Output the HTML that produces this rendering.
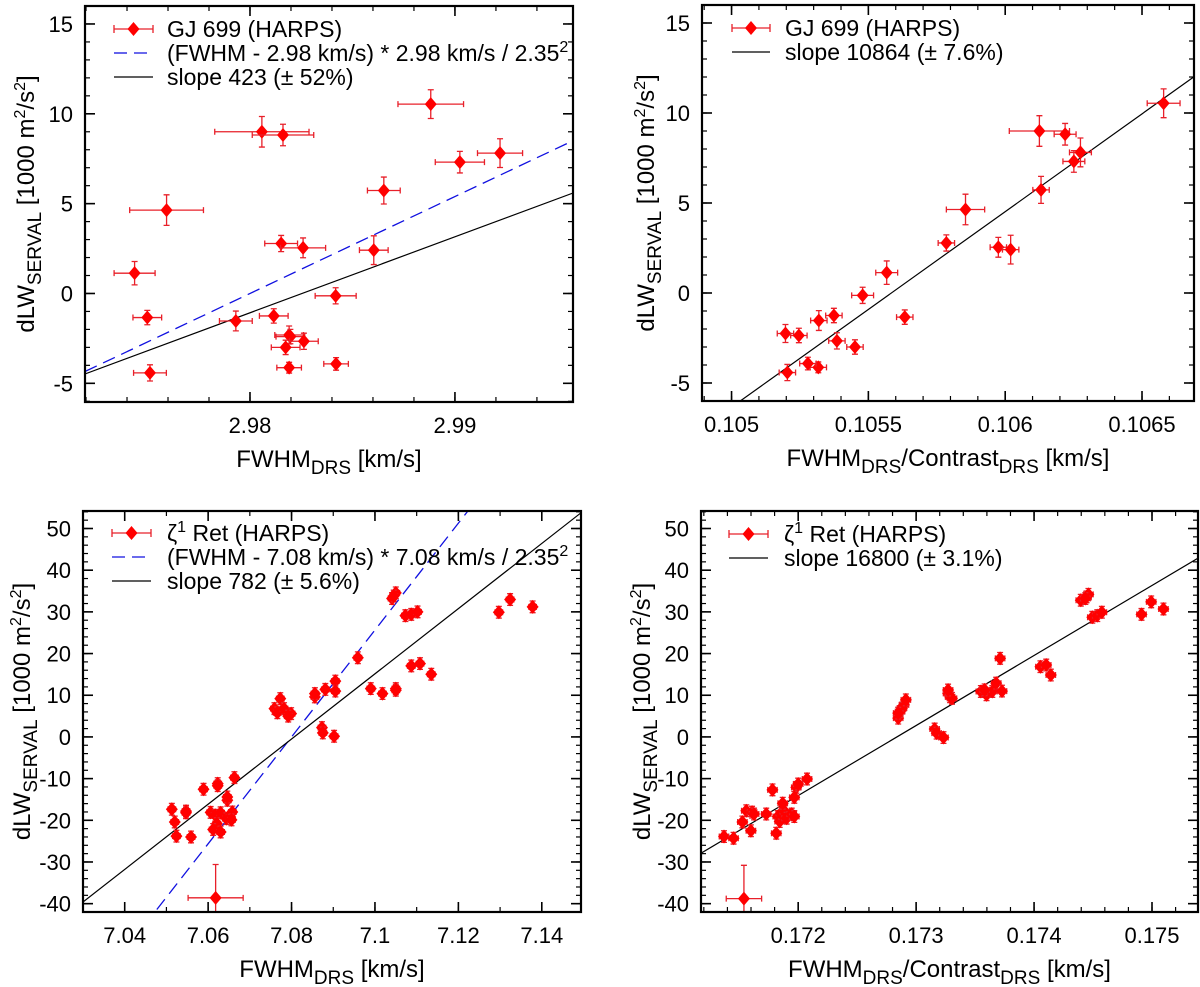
<!DOCTYPE html>
<html><head><meta charset="utf-8"><style>
html,body{margin:0;padding:0;background:#fff;}
svg{display:block;font-family:"Liberation Sans",sans-serif;}
</style></head><body>
<svg id="fig" width="1200" height="987" viewBox="0 0 1200 987" xmlns="http://www.w3.org/2000/svg"></svg>
<script>
// ---- Panel A (top-left): GJ 699 vs FWHM ----
const aX = [2.98882,2.98058,2.98161,2.99024,2.99220,2.98653,2.97593,2.98152,2.98259,2.98604,2.97437,2.98418,2.97499,2.97931,2.98116,2.98191,2.98197,2.98263,2.98174,2.98191,2.98420,2.97512];
const aY = [10.54,9.0,8.82,7.31,7.81,5.73,4.64,2.78,2.54,2.41,1.13,-0.13,-1.34,-1.53,-1.25,-2.31,-2.40,-2.66,-3.0,-4.13,-3.92,-4.42];
const aXerr = [0.0016,0.0023,0.0015,0.0012,0.0011,0.0008,0.0018,0.0008,0.0011,0.0007,0.001,0.001,0.0007,0.0008,0.0007,0.0007,0.0007,0.0007,0.0007,0.0006,0.0006,0.0008];
const aYerr = [0.8,0.85,0.6,0.6,0.8,0.75,0.85,0.45,0.55,0.8,0.65,0.45,0.4,0.55,0.4,0.5,0.4,0.45,0.4,0.3,0.35,0.45];
const aXticks = [2.98,2.99];
const aYticks = [-5,0,5,10,15];
const aFit = [423,2.98254];
const aTheory = [539.6,2.98];
// ---- Panel B (top-right): GJ 699 vs FWHM/Contrast ----
const bX = [0.106579,0.106125,0.106219,0.106251,0.106275,0.106131,0.105855,0.105785,0.105975,0.106020,0.105567,0.105479,0.105633,0.105319,0.105374,0.105197,0.105246,0.105385,0.105451,0.105317,0.105279,0.105204];
const bY = [10.54,9.0,8.82,7.31,7.81,5.73,4.64,2.78,2.54,2.41,1.13,-0.13,-1.34,-1.53,-1.25,-2.25,-2.36,-2.66,-3.0,-4.13,-3.92,-4.42];
const bXerr = [0.00006,0.00011,0.00004,0.00004,0.00004,0.00003,0.00007,0.00003,0.00003,0.00003,0.00004,0.00004,0.00003,0.00003,0.00003,0.00003,0.00003,0.00003,0.00003,0.00003,0.00003,0.00003];
const bYerr = aYerr;
const bXticks = [0.105,0.1055,0.106,0.1065];
const bYticks = [-5,0,5,10,15];
const bFit = [10864,0.105584];
// ---- Panel C (bottom-left): zeta1 Ret vs FWHM ----
const cX = [7.1324,7.1297,7.1378,7.1041,7.1050,7.1045,7.1073,7.1087,7.1102,7.0959,7.1087,7.1108,7.1135,7.0990,7.1018,7.1050,7.1050,7.0905,7.0905,7.0881,7.0856,7.0856,7.0873,7.0875,7.0902,7.0759,7.0766,7.0773,7.0782,7.0799,7.0792,7.0663,7.0589,7.0623,7.0623,7.0646,7.0646,7.0513,7.0547,7.0547,7.0520,7.0524,7.0559,7.0606,7.0617,7.0630,7.0644,7.0653,7.0658,7.0621,7.0612,7.0630,7.0656,7.0618];
const cY = [32.96,29.9,31.2,33.2,34.56,33.8,29.1,29.4,30.0,19.0,17.04,17.6,15.04,11.6,10.4,11.6,11.2,13.4,11.0,11.4,9.6,10.4,2.24,0.96,0.16,6.8,5.8,9.2,6.8,5.6,5.0,-9.76,-12.56,-11.2,-11.7,-15.2,-14.4,-17.36,-17.8,-18.2,-20.4,-23.8,-24.0,-18.1,-18.8,-18.2,-19.6,-19.2,-18.0,-20.8,-22.2,-22.8,-19.9,-38.6];
const cXerr = cX.map((v,i)=> i===cX.length-1 ? 0.0066 : 0.0009);
const cYerr = cX.map((v,i)=> i===cX.length-1 ? 8 : 1.4);
const cXticks = [7.04,7.06,7.08,7.10,7.12,7.14];
const cYticks = [-40,-30,-20,-10,0,10,20,30,40,50];
const cFit = [782,7.08064];
const cTheory = [1282,7.08];
// ---- Panel D (bottom-right): zeta1 Ret vs FWHM/Contrast ----
const dX = [0.174396,0.174445,0.174461,0.174435,0.174494,0.174536,0.174575,0.174911,0.174993,0.175097,0.173712,0.174054,0.174103,0.174142,0.173271,0.173288,0.173304,0.173271,0.173549,0.173597,0.173646,0.173679,0.173728,0.173581,0.173157,0.173174,0.173232,0.172848,0.172864,0.172897,0.172880,0.172848,0.172913,0.172075,0.171984,0.172,0.171967,0.171782,0.171560,0.171609,0.171626,0.171729,0.171527,0.171599,0.171371,0.171452,0.171814,0.171827,0.171843,0.171853,0.171886,0.171902,0.171945,0.171967,0.171869,0.171540];
const dY = [32.8,33.6,34.2,33.2,28.7,29.1,29.9,29.4,32.4,30.7,18.85,16.85,17.25,14.85,10.45,9.65,9.25,11.25,10.9,10.1,10.9,12.9,11.0,11.3,1.9,0.9,-0.15,4.5,6.1,7.7,6.9,5.7,8.9,-10.1,-12.1,-11.3,-14.5,-12.7,-17.7,-18.05,-18.5,-18.5,-20.4,-22.5,-23.9,-24.3,-23.1,-19.1,-20.3,-18.3,-17.9,-19.5,-18.5,-19.1,-15.9,-38.8];
const dXerr = dX.map((v,i)=> i===dX.length-1 ? 0.00015 : 0.00004);
const dYerr = dX.map((v,i)=> i===dX.length-1 ? 8 : 1.4);
const dXticks = [0.172,0.173,0.174,0.175];
const dYticks = [-40,-30,-20,-10,0,10,20,30,40,50];
const dFit = [16800,0.172837];

const NS = "http://www.w3.org/2000/svg";
const svg = document.getElementById('fig');
function el(tag, attrs, parent){
  const e = document.createElementNS(NS, tag);
  for (const k in attrs) e.setAttribute(k, attrs[k]);
  (parent||svg).appendChild(e);
  return e;
}
function fmt(v){ return String(parseFloat(v.toPrecision(6))); }

function panel(o){
  const g = el('g', {});
  
  
  const L=o.box[0], T=o.box[1], R=o.box[2], B=o.box[3];
  const sx = v => L + (v - o.xr[0]) / (o.xr[1]-o.xr[0]) * (R-L);
  const sy = v => B - (v - o.yr[0]) / (o.yr[1]-o.yr[0]) * (B-T);
  const clipId = o.name + '-clip';
  const cp = el('clipPath', {id: clipId}, g);
  el('rect', {x:L, y:T, width:R-L, height:B-T}, cp);
  const minor = el('g', {stroke:'#000','stroke-width':1.2}, g);
  
  
  const nx = Math.round((o.xr[1]-o.xr[0])/o.xminor)+2;
  const x0 = Math.ceil(o.xr[0]/o.xminor - 1e-6)*o.xminor;
  for (let i=0;i<nx;i++){ const v=x0+i*o.xminor; if(v>o.xr[1]) break; const px=sx(v);
    el('line',{x1:px,y1:B,x2:px,y2:B-5},minor); el('line',{x1:px,y1:T,x2:px,y2:T+5},minor); }
  const ny = Math.round((o.yr[1]-o.yr[0])/o.yminor)+2;
  const y0 = Math.ceil(o.yr[0]/o.yminor - 1e-6)*o.yminor;
  for (let i=0;i<ny;i++){ const v=y0+i*o.yminor; if(v>o.yr[1]) break; const py=sy(v);
    el('line',{x1:L,y1:py,x2:L+5,y2:py},minor); el('line',{x1:R,y1:py,x2:R-5,y2:py},minor); }
  const major = el('g', {stroke:'#000','stroke-width':1.6}, g);
  o.xt.forEach(v=>{ const px=sx(v);
    el('line',{x1:px,y1:B,x2:px,y2:B-10},major); el('line',{x1:px,y1:T,x2:px,y2:T+10},major);
    const t = el('text',{x:px,y:B+31,'font-size':22,'text-anchor':'middle',fill:'#000'},g);
    
    
    t.textContent = fmt(v); });
  o.yt.forEach(v=>{ const py=sy(v);
    el('line',{x1:L,y1:py,x2:L+10,y2:py},major); el('line',{x1:R,y1:py,x2:R-10,y2:py},major);
    const t = el('text',{x:L-12,y:py+8,'font-size':22,'text-anchor':'end',fill:'#000'},g);
    
    
    t.textContent = fmt(v); });
  const lg = el('g',{'clip-path':'url(#'+clipId+')'},g);
  if (o.theory){
    const f = x => o.theory[0]*(x-o.theory[1]);
    const ln = el('line',{x1:sx(o.xr[0]),y1:sy(f(o.xr[0])),x2:sx(o.xr[1]),y2:sy(f(o.xr[1])),stroke:'#1010e0','stroke-width':1.3,'stroke-dasharray':'13,7'},lg);
    
    
  }
  { const f = x => o.fit[0]*(x-o.fit[1]);
    const ln = el('line',{x1:sx(o.xr[0]),y1:sy(f(o.xr[0])),x2:sx(o.xr[1]),y2:sy(f(o.xr[1])),stroke:'#000','stroke-width':1.2},lg);
    
     }
  const pg = el('g',{'clip-path':'url(#'+clipId+')'},g);
  o.xs.forEach((xv,i)=>{
    const yv=o.ys[i], px=sx(xv), py=sy(yv);
    const xe = o.xe[i], ye = o.ye[i];
    const pt = el('g',{},pg);
    
    
    const x1=sx(xv-xe), x2=sx(xv+xe), y1=sy(yv-ye), y2=sy(yv+ye);
    el('path',{d:`M${x1},${py}H${x2}M${x1},${py-3}V${py+3}M${x2},${py-3}V${py+3}M${px},${y1}V${y2}M${px-3},${y1}H${px+3}M${px-3},${y2}H${px+3}`,stroke:'#e8202a','stroke-width':1.3,fill:'none'},pt);
    el('path',{d:`M${px},${py-7}L${px+6},${py}L${px},${py+7}L${px-6},${py}Z`,fill:'#f00'},pt);
  });
  const fr = el('rect',{x:L,y:T,width:R-L,height:B-T,fill:'none',stroke:'#000','stroke-width':2.2},g);
  
  
  const yl = el('text',{transform:`translate(${o.ylx},${(T+B)/2}) rotate(-90)`,'font-size':24,'text-anchor':'middle',fill:'#000'},g);
  
  
  yl.innerHTML = 'dLW<tspan font-size="19" dy="7">SERVAL</tspan><tspan dy="-7"> [1000 m</tspan><tspan font-size="16" dy="-9">2</tspan><tspan dy="9">/s</tspan><tspan font-size="16" dy="-9">2</tspan><tspan dy="9">]</tspan>';
  const xl = el('text',{x:(L+R)/2,y:B+65,'font-size':24,'text-anchor':'middle',fill:'#000'},g);
  
  
  xl.innerHTML = o.contrast
    ? 'FWHM<tspan font-size="19" dy="7">DRS</tspan><tspan dy="-7">/Contrast</tspan><tspan font-size="19" dy="7">DRS</tspan><tspan dy="-7"> [km/s]</tspan>'
    : 'FWHM<tspan font-size="19" dy="7">DRS</tspan><tspan dy="-7"> [km/s]</tspan>';
  const lgd = el('g',{},g);
  
  
  const lx0=o.leg[0], lx1=o.leg[1], tx=o.leg[2];
  o.legRows.forEach((r,i)=>{
    const ry = o.leg[3] + i*24;
    const it = el('g',{},lgd);
    
    
    const mx=(lx0+lx1)/2;
    if (r.type==='pt'){
      el('path',{d:`M${lx0},${ry}H${lx1}M${lx0},${ry-4}V${ry+4}M${lx1},${ry-4}V${ry+4}`,stroke:'#e8202a','stroke-width':1.3},it);
      el('path',{d:`M${mx},${ry-7}L${mx+6},${ry}L${mx},${ry+7}L${mx-6},${ry}Z`,fill:'#f00'},it);
    } else if (r.type==='dash'){
      el('line',{x1:lx0,y1:ry,x2:lx1,y2:ry,stroke:'#1010e0','stroke-width':1.3,'stroke-dasharray':'13,7'},it);
    } else {
      el('line',{x1:lx0,y1:ry,x2:lx1,y2:ry,stroke:'#000','stroke-width':1.2},it);
    }
    const t = el('text',{x:tx,y:ry+8,'font-size':23,fill:'#000'},it);
    t.innerHTML = r.html;
  });
}

panel({name:'panel-gj699-fwhm', box:[85,6,573,402], xr:[2.97195,2.99576], yr:[-6.04,16],
  xt:aXticks, yt:aYticks, xminor:0.002, yminor:1, xs:aX, ys:aY, xe:aXerr, ye:aYerr,
  fit:aFit, theory:aTheory, ylx:34, leg:[114,153,167,29],
  legRows:[{type:'pt',html:'GJ 699 (HARPS)'},{type:'dash',html:'(FWHM - 2.98 km/s) * 2.98 km/s / 2.35<tspan font-size="16" dy="-9">2</tspan>'},{type:'line',html:'slope 423 (± 52%)'}]});
panel({name:'panel-gj699-contrast', box:[702,5,1194,401], xr:[0.104892,0.10669], yr:[-6,16],
  xt:bXticks, yt:bYticks, xminor:0.0001, yminor:1, xs:bX, ys:bY, xe:bXerr, ye:bYerr,
  fit:bFit, contrast:true, ylx:654, leg:[732,770,785,28],
  legRows:[{type:'pt',html:'GJ 699 (HARPS)'},{type:'line',html:'slope 10864 (± 7.6%)'}]});
panel({name:'panel-zeta-fwhm', box:[83,511,581,912], xr:[7.030,7.1494], yr:[-42,54.2],
  xt:cXticks, yt:cYticks, xminor:0.01, yminor:2, xs:cX, ys:cY, xe:cXerr, ye:cYerr,
  fit:cFit, theory:cTheory, ylx:30, leg:[112,151,167,533],
  legRows:[{type:'pt',html:'ζ<tspan font-size="16" dy="-9">1</tspan><tspan dy="9"> Ret (HARPS)</tspan>'},{type:'dash',html:'(FWHM - 7.08 km/s) * 7.08 km/s / 2.35<tspan font-size="16" dy="-9">2</tspan>'},{type:'line',html:'slope 782 (± 5.6%)'}]});
panel({name:'panel-zeta-contrast', box:[701,511,1198,912], xr:[0.171176,0.17539], yr:[-42,54.2],
  xt:dXticks, yt:dYticks, xminor:0.0002, yminor:2, xs:dX, ys:dY, xe:dXerr, ye:dYerr,
  fit:dFit, contrast:true, ylx:650, leg:[729,768,784,534],
  legRows:[{type:'pt',html:'ζ<tspan font-size="16" dy="-9">1</tspan><tspan dy="9"> Ret (HARPS)</tspan>'},{type:'line',html:'slope 16800 (± 3.1%)'}]});
</script>
</body></html>
